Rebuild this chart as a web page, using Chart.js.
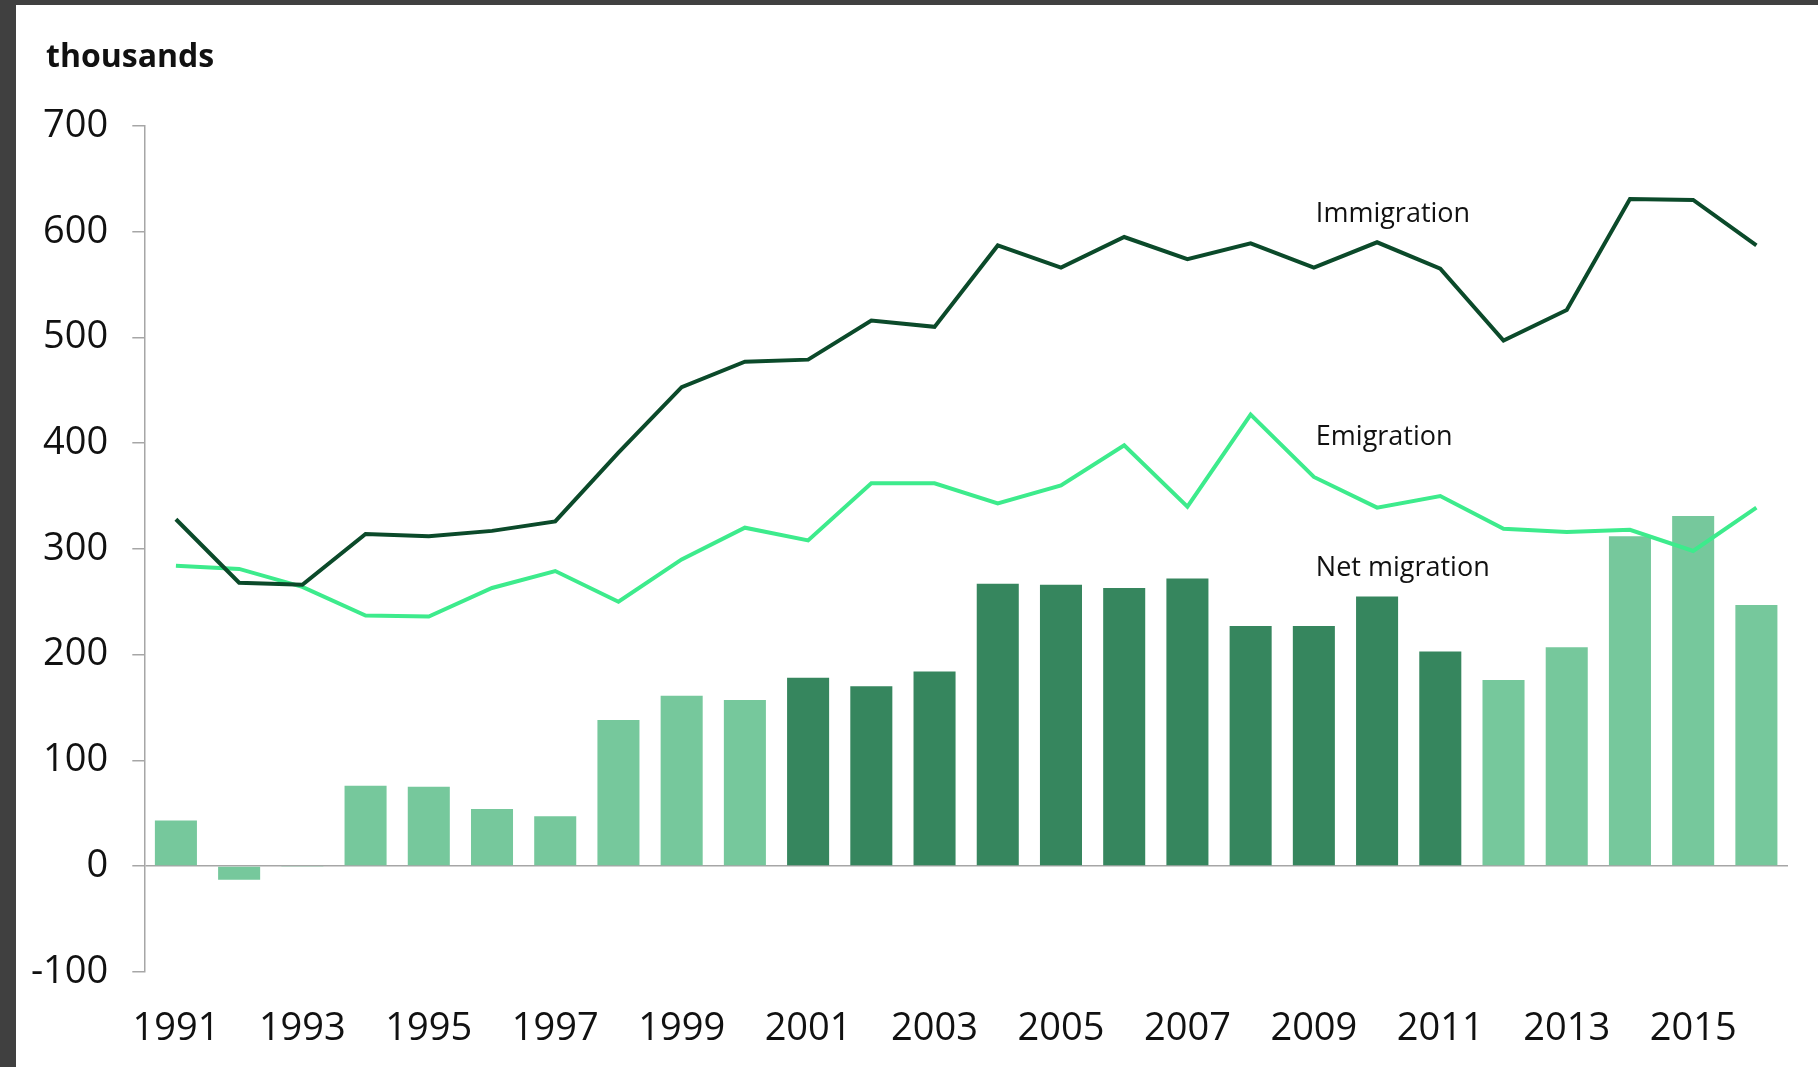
<!DOCTYPE html>
<html><head><meta charset="utf-8">
<script src="https://cdn.jsdelivr.net/npm/chart.js@4.4.1/dist/chart.umd.min.js"></script>
<style>
html,body{margin:0;padding:0;background:#404040;}
#wrap{position:relative;width:1818px;height:1067px;background:#404040;overflow:hidden;}
#box{position:absolute;left:16px;top:5px;width:1802px;height:1062px;background:#fff;}
canvas{display:block;}
</style></head><body>
<div id="wrap"><div id="box"><canvas id="c" width="1802" height="1062"></canvas></div></div>
<script>
// ---- data ----
const years = [1991,1992,1993,1994,1995,1996,1997,1998,1999,2000,2001,2002,2003,2004,2005,2006,2007,2008,2009,2010,2011,2012,2013,2014,2015,2016];
const immigration = [328,268,266,314,312,317,326,391,453,477,479,516,510,587,566,595,574,589,566,590,565,497,526,631,630,587];
const emigration  = [284,281,264,237,236,263,279,250,290,320,308,362,362,343,360,398,340,427,368,339,350,319,316,318,298,339];
const netMigration = [43,-13,-1,76,75,54,47,138,161,157,178,170,184,267,266,263,272,227,227,255,203,176,207,312,331,247];
const seriesNames = ['Immigration','Emigration','Net migration'];
const yTickValues = [-100,0,100,200,300,400,500,600,700];
const unitLabel = 'thousands';
const revisedFrom = 2001, revisedTo = 2011;

// ---- style ----
const FAM = "'Open Sans', sans-serif";
const TICK_SIZE = 38;
const NOTE_SIZE = 27;
const TITLE_SIZE = 32;

const LIGHT = '#76c89c', DARK = '#36865e';
const IMM = '#0b4a2a', EMI = '#3deb8c';
const AXIS = '#a6a6a6';

const labelsPlugin = {
  id:'labels',
  afterDatasetsDraw(chart){
    const ctx = chart.ctx, x = chart.scales.x, y = chart.scales.y;
    ctx.save();
    ctx.fillStyle = '#111';
    ctx.textAlign = 'left';
    ctx.textBaseline = 'alphabetic';
    ctx.font = 'bold ' + TITLE_SIZE + 'px ' + FAM;
    ctx.fillText(unitLabel, 30, 62);
    ctx.font = NOTE_SIZE + 'px ' + FAM;
    const lx = x.getPixelForValue(18) + 2;
    ctx.fillText(seriesNames[0], lx, y.getPixelForValue(609));
    ctx.fillText(seriesNames[1], lx, y.getPixelForValue(398));
    ctx.fillText(seriesNames[2], lx, y.getPixelForValue(274));
    ctx.restore();
  }
};

new Chart(document.getElementById('c'), {
  data: {
    labels: years,
    datasets: [
      { type:'line', label:seriesNames[0], data:immigration, borderColor:IMM, borderWidth:4, pointRadius:0, tension:0, order:1 },
      { type:'line', label:seriesNames[1], data:emigration, borderColor:EMI, borderWidth:4, pointRadius:0, tension:0, order:1 },
      { type:'bar', label:seriesNames[2], data:netMigration,
        backgroundColor: c => (years[c.dataIndex]>=revisedFrom && years[c.dataIndex]<=revisedTo) ? DARK : LIGHT,
        categoryPercentage:1, barPercentage:0.665, order:2 }
    ]
  },
  options: {
    responsive:false, devicePixelRatio:1, animation:false,
    layout:{ padding:{ top:121, right:30, bottom:0, left:0 } },
    plugins:{ legend:{display:false}, tooltip:{enabled:false}, title:{display:false} },
    scales:{
      x:{
        offset:true,
        grid:{ display:false, drawTicks:false },
        border:{ display:false },
        ticks:{ autoSkip:false, maxRotation:0, padding:35, color:'#111',
          font:{ family:FAM, size:TICK_SIZE },
          callback:(v,i)=> i%2===0 ? String(years[i]) : '' },
        afterFit: s => { s.height = 95.3; }
      },
      y:{
        min:-100, max:700,
        afterBuildTicks: s => { s.ticks = yTickValues.map(v=>({value:v})); },
        grid:{ color: c => (c.tick && c.tick.value===0) ? AXIS : 'rgba(0,0,0,0)', tickColor:AXIS, tickLength:12, lineWidth:1.5, drawTicks:true },
        border:{ display:true, color:AXIS, width:1.5 },
        ticks:{ padding:24, color:'#111', font:{ family:FAM, size:TICK_SIZE } },
        afterFit: s => { s.width = 128.3; }
      }
    }
  },
  plugins:[labelsPlugin]
});
</script>
</body></html>
